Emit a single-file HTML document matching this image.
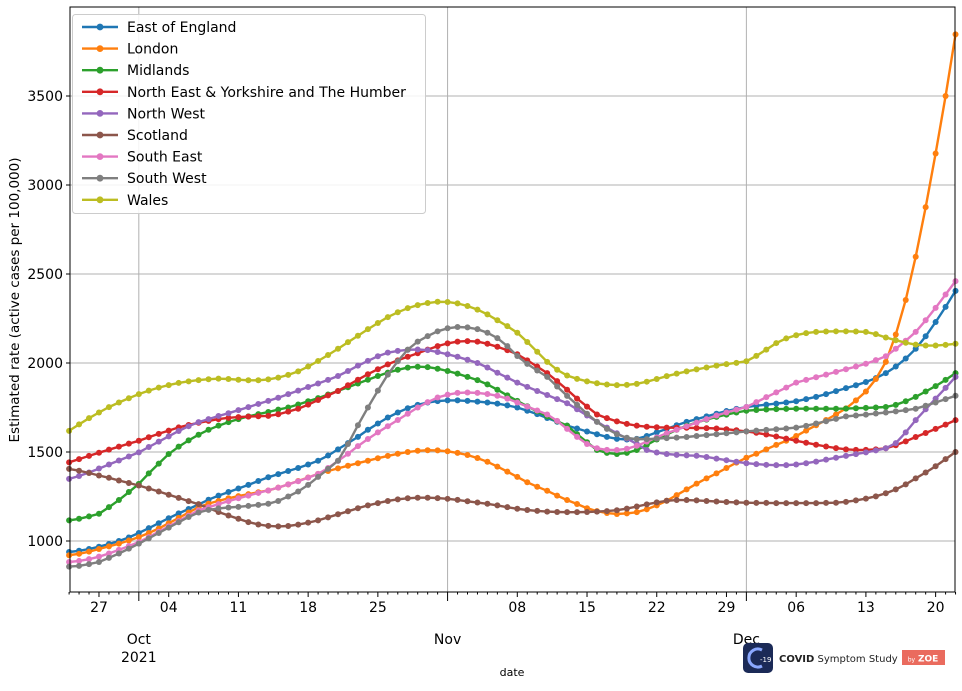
<!DOCTYPE html>
<html><head><meta charset="utf-8"><style>
body{margin:0;background:#fff;width:962px;height:686px;overflow:hidden;font-family:"Liberation Sans","DejaVu Sans",sans-serif}
svg text{font-family:"DejaVu Sans","Liberation Sans",sans-serif}
</style></head><body>
<svg id="chart" width="962" height="686" viewBox="0 0 962 686" xmlns="http://www.w3.org/2000/svg"></svg>
<script>
const seriesNames=["East of England","London","Midlands","North East & Yorkshire and The Humber","North West","Scotland","South East","South West","Wales"];
const seriesColors=["#1f77b4","#ff7f0e","#2ca02c","#d62728","#9467bd","#8c564b","#e377c2","#7f7f7f","#bcbd22"];
const startDate="2021-09-24";
const yTicks=[1000,1500,2000,2500,3000,3500];
const weekLabels=["27","04","11","18","25","08","15","22","29","06","13","20"];
const weekDays=[3,10,17,24,31,45,52,59,66,73,80,87];
const monthLabels=["Oct","Nov","Dec"];
const monthDays=[7,38,68];
const eastOfEngland=[938,945,955,968,983,1000,1020,1045,1072,1100,1128,1155,1180,1205,1232,1255,1275,1295,1315,1337,1358,1376,1393,1410,1430,1451,1480,1515,1550,1585,1625,1660,1694,1722,1746,1765,1778,1786,1790,1790,1787,1783,1778,1772,1762,1750,1732,1713,1691,1670,1648,1632,1615,1600,1585,1574,1570,1574,1590,1610,1630,1650,1669,1685,1700,1715,1730,1742,1753,1760,1766,1772,1778,1785,1797,1810,1825,1842,1859,1875,1893,1915,1943,1980,2025,2080,2150,2230,2315,2405];
const london=[920,928,940,955,970,985,1003,1022,1045,1070,1100,1130,1160,1190,1210,1225,1240,1252,1263,1274,1284,1300,1318,1337,1357,1377,1393,1408,1423,1437,1451,1465,1478,1490,1500,1507,1510,1509,1504,1495,1483,1466,1445,1418,1390,1360,1330,1305,1282,1255,1230,1208,1184,1168,1157,1152,1155,1162,1178,1200,1226,1258,1290,1322,1352,1380,1410,1440,1468,1490,1515,1540,1563,1590,1620,1650,1680,1711,1745,1790,1840,1910,2006,2160,2354,2597,2876,3177,3500,3846];
const midlands=[1116,1125,1138,1153,1190,1230,1275,1321,1380,1435,1489,1530,1565,1597,1625,1648,1668,1685,1700,1713,1725,1738,1750,1767,1785,1803,1823,1843,1864,1885,1906,1927,1946,1962,1974,1979,1977,1968,1955,1940,1922,1904,1880,1850,1818,1787,1757,1728,1700,1673,1648,1600,1555,1511,1495,1489,1495,1511,1540,1570,1598,1625,1648,1666,1682,1697,1710,1722,1732,1736,1739,1741,1742,1743,1743,1743,1743,1743,1744,1746,1748,1750,1753,1765,1785,1810,1840,1870,1905,1943];
const northEast=[1442,1460,1478,1496,1513,1530,1547,1563,1583,1602,1620,1638,1652,1664,1675,1685,1692,1696,1699,1701,1703,1712,1727,1743,1766,1792,1818,1843,1875,1906,1937,1965,1992,2015,2035,2055,2075,2095,2110,2120,2123,2120,2108,2091,2072,2049,2015,1980,1943,1898,1850,1800,1755,1711,1690,1672,1658,1648,1642,1639,1637,1636,1636,1635,1634,1632,1628,1622,1616,1608,1598,1587,1575,1563,1552,1541,1531,1522,1515,1512,1512,1515,1521,1538,1560,1584,1607,1630,1654,1679];
const northWest=[1349,1365,1385,1407,1430,1452,1475,1498,1528,1558,1588,1618,1645,1668,1685,1702,1718,1735,1752,1770,1787,1805,1825,1845,1865,1885,1905,1927,1955,1985,2012,2038,2058,2068,2074,2076,2072,2062,2049,2035,2018,2000,1975,1945,1918,1890,1866,1843,1820,1797,1774,1740,1705,1670,1637,1605,1575,1545,1511,1497,1489,1484,1481,1479,1472,1463,1454,1445,1437,1432,1428,1426,1426,1430,1437,1446,1457,1468,1478,1488,1498,1509,1521,1550,1610,1679,1740,1800,1860,1922];
const scotland=[1405,1395,1382,1368,1355,1340,1326,1312,1295,1278,1260,1242,1224,1207,1185,1163,1143,1125,1106,1093,1085,1082,1084,1092,1103,1116,1133,1150,1167,1184,1200,1213,1225,1234,1240,1243,1243,1241,1237,1231,1223,1216,1209,1200,1190,1181,1174,1169,1165,1163,1162,1162,1163,1165,1168,1173,1182,1194,1206,1217,1226,1230,1230,1228,1225,1222,1219,1217,1215,1214,1214,1213,1213,1213,1213,1213,1214,1215,1220,1228,1238,1251,1268,1290,1318,1352,1385,1420,1460,1500];
const southEast=[882,888,898,912,930,950,972,994,1022,1052,1082,1112,1142,1172,1190,1207,1224,1240,1255,1270,1284,1300,1318,1336,1356,1377,1410,1450,1490,1533,1573,1610,1645,1680,1715,1750,1780,1806,1822,1832,1834,1832,1826,1816,1800,1778,1755,1733,1711,1675,1630,1585,1545,1521,1512,1511,1518,1535,1558,1582,1605,1625,1645,1665,1685,1705,1722,1738,1753,1780,1808,1835,1862,1890,1905,1920,1935,1950,1965,1980,1996,2016,2038,2080,2125,2175,2240,2310,2385,2460];
const southWest=[856,860,870,882,905,930,957,985,1015,1045,1075,1105,1135,1160,1175,1183,1188,1192,1197,1203,1209,1225,1250,1278,1315,1360,1405,1451,1545,1650,1750,1845,1935,2010,2075,2120,2151,2178,2195,2202,2200,2190,2170,2140,2095,2039,1995,1958,1922,1868,1815,1765,1715,1669,1630,1600,1580,1572,1572,1575,1578,1581,1584,1590,1595,1600,1605,1610,1616,1620,1624,1628,1632,1637,1647,1660,1673,1686,1700,1705,1710,1716,1722,1728,1735,1743,1760,1778,1797,1816];
const wales=[1619,1655,1690,1722,1752,1778,1802,1825,1845,1862,1876,1888,1897,1904,1909,1912,1910,1906,1903,1903,1908,1918,1933,1953,1980,2011,2045,2080,2117,2153,2190,2225,2258,2285,2308,2325,2337,2344,2343,2335,2320,2300,2273,2240,2207,2170,2118,2063,2006,1962,1930,1911,1897,1886,1879,1876,1877,1883,1895,1910,1926,1940,1953,1964,1975,1985,1994,2001,2010,2040,2075,2112,2138,2156,2168,2175,2177,2178,2178,2177,2175,2162,2143,2128,2114,2103,2098,2098,2102,2108];
const allSeries=[eastOfEngland,london,midlands,northEast,northWest,scotland,southEast,southWest,wales];

const NS="http://www.w3.org/2000/svg";
const svg=document.getElementById('chart');
const L=70,R=955,T=7,B=592;
const xDay=d=>69.1+9.96*d;
const yVal=v=>541-(v-1000)*0.178;
function mk(tag,attrs,parent){const e=document.createElementNS(NS,tag);for(const k in attrs)e.setAttribute(k,attrs[k]);(parent||svg).appendChild(e);return e;}

const grid=mk('g',{});


yTicks.forEach(v=>{const l=mk('line',{x1:L,x2:R,y1:yVal(v),y2:yVal(v),stroke:'#b0b0b0','stroke-width':1},grid);

});
monthDays.forEach(d=>{const l=mk('line',{x1:xDay(d),x2:xDay(d),y1:T,y2:B,stroke:'#b0b0b0','stroke-width':1},grid);

});

const plot=mk('g',{});


allSeries.forEach((vals,i)=>{
 const g=mk('g',{},plot);
 
 
 const pts=vals.map((v,d)=>xDay(d).toFixed(1)+','+yVal(v).toFixed(1)).join(' ');
 const pl=mk('polyline',{points:pts,fill:'none',stroke:seriesColors[i],'stroke-width':2.4},g);
 
 
 vals.forEach((v,d)=>{const c=mk('circle',{cx:xDay(d),cy:yVal(v),r:3,fill:seriesColors[i]},g);
 
 });
});

const frame=mk('rect',{x:L,y:T,width:R-L,height:B-T,fill:'none',stroke:'#000','stroke-width':1});



const yax=mk('g',{});


yTicks.forEach(v=>{mk('line',{x1:L-4,x2:L,y1:yVal(v),y2:yVal(v),stroke:'#000'},yax);
 const t=mk('text',{x:L-7,y:yVal(v)+5,'text-anchor':'end','font-size':14,fill:'#000'},yax);t.textContent=v;
 
 });
const yt=mk('text',{x:19,y:300,'text-anchor':'middle','font-size':13.5,transform:'rotate(-90 19 300)'});
yt.textContent='Estimated rate (active cases per 100,000)';



const xax=mk('g',{});


for(let d=0;d<=89;d++){const big=monthDays.includes(d);const wk=weekDays.includes(d);
 mk('line',{x1:xDay(d),x2:xDay(d),y1:B,y2:B+(big?9:wk?5:2.5),stroke:'#000','stroke-width':1},xax);}
weekDays.forEach((d,i)=>{const t=mk('text',{x:xDay(d),y:612,'text-anchor':'middle','font-size':14},xax);t.textContent=weekLabels[i];
 
 });
monthDays.forEach((d,i)=>{const t=mk('text',{x:xDay(d),y:644,'text-anchor':'middle','font-size':14},xax);t.textContent=monthLabels[i];
 
 });
const yr=mk('text',{x:xDay(7),y:662,'text-anchor':'middle','font-size':14},xax);yr.textContent='2021';


const xt=mk('text',{x:512,y:676,'text-anchor':'middle','font-size':11});xt.textContent='date';



const leg=mk('g',{});


mk('rect',{x:72.5,y:14.5,width:353,height:199,rx:3,fill:'#fff','fill-opacity':0.85,stroke:'#ccc'},leg);
seriesNames.forEach((n,i)=>{const y=27+i*21.6;
 const e=mk('g',{},leg);
 
 
 mk('line',{x1:82,x2:118,y1:y,y2:y,stroke:seriesColors[i],'stroke-width':2.4},e);
 mk('circle',{cx:100,cy:y,r:3.4,fill:seriesColors[i]},e);
 const t=mk('text',{x:127,y:y+5,'font-size':14},e);t.textContent=n;});

const logo=mk('g',{});


mk('rect',{x:743,y:643,width:30,height:30,rx:5,fill:'#1b2a57'},logo);
mk('path',{d:'M762 650 A9 9 0 1 0 762 666',fill:'none',stroke:'#8aa8ff','stroke-width':3},logo);
const l19=mk('text',{x:760,y:662,'font-size':7,fill:'#fff'},logo);l19.textContent='-19';
const lt=mk('text',{x:779,y:662,'font-size':10,fill:'#222'},logo);lt.innerHTML='<tspan font-weight="bold">COVID</tspan> Symptom Study';
mk('rect',{x:902,y:650,width:43,height:15,fill:'#ea6b5e'},logo);
const z=mk('text',{x:923,y:661.5,'font-size':9,fill:'#fff','text-anchor':'middle'},logo);z.innerHTML='<tspan font-size="6">by</tspan> <tspan font-weight="bold">ZOE</tspan>';
</script>
</body></html>
